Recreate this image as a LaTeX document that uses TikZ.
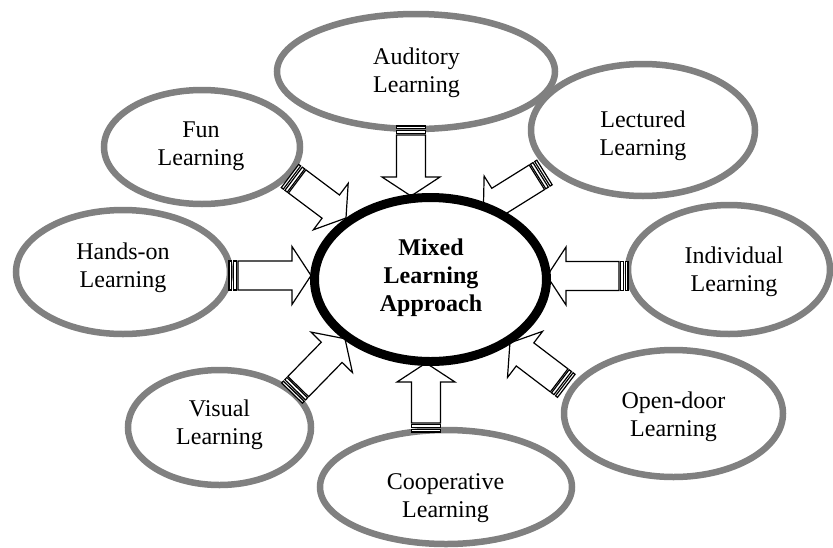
\documentclass[tikz,border=0pt]{standalone}
\usepackage{fontspec}
\setmainfont{Liberation Serif}
\usetikzlibrary{shapes.geometric,calc}

\definecolor{ringgray}{RGB}{128,128,128}

\tikzset{
  ring/.style={ellipse, draw=ringgray, line width=6.5pt, fill=white, inner sep=0pt},
  hub/.style={ellipse, draw=black, line width=9pt, fill=white, inner sep=0pt},
  lbl/.style={align=center, inner sep=0pt, font=\fontsize{24}{28}\selectfont},
  arrowline/.style={draw=black, fill=white, line width=1.2pt, line join=miter},
  % block arrow with two stripes at its tail; #1 = length from tail to tip
  pics/sarrow/.style={code={
    \pgfmathsetmacro\arrlen{#1}
    \pgfmathsetmacro\headbase{\arrlen-19}
    \path[arrowline] (9,-14.5) -- (\headbase,-14.5) -- (\headbase,-29)
      -- (\arrlen,0) -- (\headbase,29) -- (\headbase,14.5) -- (9,14.5) -- cycle;
    \path[arrowline] (0,-14.5) rectangle (2.5,14.5);
    \path[arrowline] (4.5,-14.5) rectangle (7.5,14.5);
  }}
}

% striped arrow from a tail coordinate to a tip coordinate
\newcommand\stripedarrow[2]{%
  \path let \p1=($(#2)-(#1)$), \n1={atan2(\y1,\x1)}, \n2={veclen(\x1,\y1)} in
    (#1) pic[rotate=\n1] {sarrow=\n2};}

\begin{document}
\begin{tikzpicture}[x=1pt, y=-1pt]
\useasboundingbox (0,0) rectangle (833,547);

% surrounding learning styles
\node[ring, minimum width=278pt, minimum height=115pt] (aud)   at (416,71.5)  {};
\node[ring, minimum width=196pt, minimum height=114pt] (fun)   at (202,147)   {};
\node[ring, minimum width=224pt, minimum height=132pt] (lec)   at (643,130)   {};
\node[ring, minimum width=214pt, minimum height=124pt] (hands) at (123,272)   {};
\node[ring, minimum width=202pt, minimum height=129pt] (ind)   at (729,269.5) {};
\node[ring, minimum width=183pt, minimum height=115pt] (vis)   at (219.5,427.5) {};
\node[ring, minimum width=219pt, minimum height=127pt] (open)  at (673.5,413.5) {};
\node[ring, minimum width=252pt, minimum height=114pt] (coop)  at (446,487)   {};

% arrow tails and tips
\coordinate (t1) at (411,126);     \coordinate (h1) at (411,196);
\coordinate (t2) at (290,176);     \coordinate (h2) at (346,218);
\coordinate (t3) at (544.5,172.5); \coordinate (h3) at (483.3,210.7);
\coordinate (t4) at (229,275.5);   \coordinate (h4) at (311,275.5);
\coordinate (t5) at (628,276);     \coordinate (h5) at (547,276);
\coordinate (t6) at (292,393);     \coordinate (h6) at (345,338.7);
\coordinate (t7) at (426,432);     \coordinate (h7) at (426,363);
\coordinate (t8) at (566.3,385.8); \coordinate (h8) at (509.8,342.8);

\stripedarrow{t1}{h1}
\stripedarrow{t2}{h2}
\stripedarrow{t3}{h3}
\stripedarrow{t4}{h4}
\stripedarrow{t5}{h5}
\stripedarrow{t6}{h6}
\stripedarrow{t7}{h7}
\stripedarrow{t8}{h8}

% central approach
\node[hub, minimum width=232pt, minimum height=164pt] (mix) at (430.5,279.5) {};

% labels
\node[lbl] (audtxt)   at (416.5,72.4)  {Auditory\\Learning};
\node[lbl] (funtxt)   at (201,146.4)   {Fun\\Learning};
\node[lbl] (lectxt)   at (643,135.9)   {Lectured\\Learning};
\node[lbl] (handstxt) at (123,267.9)   {Hands-on\\Learning};
\node[lbl] (indtxt)   at (734,271.9)   {Individual\\Learning};
\node[lbl] (vistxt)   at (219.5,425.2) {Visual\\Learning};
\node[lbl] (opentxt)  at (673.5,416.9) {Open-door\\Learning};
\node[lbl] (cooptxt)  at (445.5,498.4) {Cooperative\\Learning};
\node[lbl, font=\fontsize{24}{28}\selectfont\bfseries] (mixtxt) at (431,277.4)
  {Mixed\\Learning\\Approach};
\end{tikzpicture}
\end{document}
